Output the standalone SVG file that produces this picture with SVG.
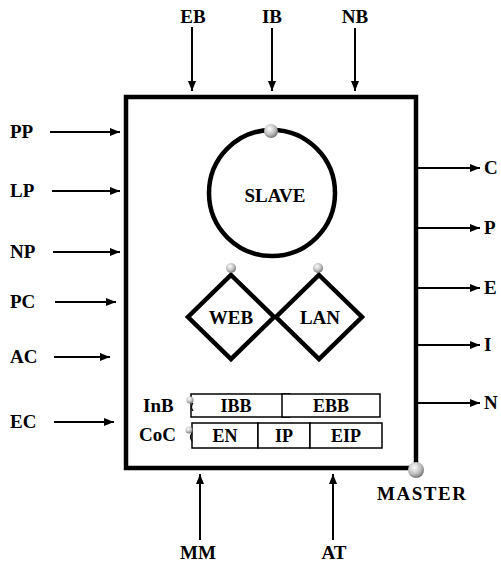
<svg xmlns="http://www.w3.org/2000/svg" width="501" height="564" viewBox="0 0 501 564">
<defs>
<marker id="ah" markerWidth="10" markerHeight="8" refX="10" refY="4" orient="auto" markerUnits="userSpaceOnUse">
<path d="M0,0 L10,4 L0,8 Z" fill="#000"/>
</marker>
<radialGradient id="ball" cx="0.4" cy="0.35" r="0.7">
<stop offset="0" stop-color="#fff"/>
<stop offset="0.6" stop-color="#bbb"/>
<stop offset="1" stop-color="#666"/>
</radialGradient>
</defs>
<style>
text{font-family:'Liberation Serif','DejaVu Serif',serif;font-weight:bold;font-size:19px;fill:#000}
.c{text-anchor:middle}
.s{font-size:18px}
.a{stroke:#000;stroke-width:2;fill:none;marker-end:url(#ah)}
.thick{stroke:#000;stroke-width:4.5;fill:#fff}
.cell{stroke:#000;stroke-width:1.5;fill:#fff}
.ball{fill:url(#ball)}
</style>
<rect width="501" height="564" fill="#fff"/>
<g id="main"><rect class="thick" x="126" y="97" width="290" height="371"/></g>
<g id="connectors">
<line class="a" x1="192" y1="27" x2="192" y2="91"/>
<line class="a" x1="272" y1="28" x2="272" y2="91"/>
<line class="a" x1="355" y1="28" x2="355" y2="91"/>
<line class="a" x1="50" y1="132" x2="120" y2="132"/>
<line class="a" x1="52" y1="191" x2="120" y2="191"/>
<line class="a" x1="53" y1="252" x2="120" y2="252"/>
<line class="a" x1="55" y1="302" x2="116" y2="302"/>
<line class="a" x1="54" y1="357" x2="110" y2="357"/>
<line class="a" x1="54" y1="422" x2="114" y2="422"/>
<line class="a" x1="418" y1="168" x2="480" y2="168"/>
<line class="a" x1="418" y1="228" x2="480" y2="228"/>
<line class="a" x1="418" y1="288" x2="480" y2="288"/>
<line class="a" x1="418" y1="345" x2="480" y2="345"/>
<line class="a" x1="418" y1="403" x2="480" y2="403"/>
<line class="a" x1="200" y1="540" x2="200" y2="474"/>
<line class="a" x1="333" y1="540" x2="333" y2="474"/>
</g>
<g id="labels">
<text class="c" x="193" y="23">EB</text>
<text class="c" x="272" y="23">IB</text>
<text class="c" x="355" y="23">NB</text>
<text x="10" y="138">PP</text>
<text x="10" y="197">LP</text>
<text x="10" y="258">NP</text>
<text x="10" y="308">PC</text>
<text x="10" y="363">AC</text>
<text x="10" y="428">EC</text>
<text x="484" y="174">C</text>
<text x="484" y="234">P</text>
<text x="484" y="294">E</text>
<text x="484" y="351">I</text>
<text x="484" y="409">N</text>
<text class="c" x="198" y="559">MM</text>
<text class="c" x="334" y="559">AT</text>
</g>
<g id="slave">
<circle cx="272" cy="193" r="63" fill="none" stroke="#000" stroke-width="4.5"/>
<circle class="ball" cx="271" cy="131" r="7"/>
<text class="c" x="275" y="202">SLAVE</text>
</g>
<g id="web">
<polygon class="thick" points="231,275 274,317 231,359 188,317"/>
<circle class="ball" cx="231" cy="268" r="5"/>
<text class="c" x="231" y="324">WEB</text>
</g>
<g id="lan">
<polygon class="thick" points="319,275 362,317 319,359 276,317"/>
<circle class="ball" cx="318" cy="268" r="5"/>
<text class="c" x="320" y="324">LAN</text>
</g>
<g id="inb">
<text x="143" y="412">InB</text>
<rect class="cell" x="191" y="394" width="99" height="23"/>
<rect class="cell" x="282" y="394" width="98" height="23"/>
<text class="c s" x="236" y="412">IBB</text>
<text class="c s" x="331" y="412">EBB</text>
<path d="M193,403 q-3,4 0,8" fill="none" stroke="#000" stroke-width="1.2"/>
<circle class="ball" cx="190" cy="400" r="3.5"/>
</g>
<g id="coc">
<text x="139" y="441">CoC</text>
<rect class="cell" x="192" y="423" width="66" height="25"/>
<rect class="cell" x="258" y="423" width="52" height="25"/>
<rect class="cell" x="310" y="423" width="72" height="25"/>
<text class="c s" x="225" y="442">EN</text>
<text class="c s" x="284" y="442">IP</text>
<text class="c s" x="346" y="442">EIP</text>
<path d="M192,433 q-3,4 0,8" fill="none" stroke="#000" stroke-width="1.2"/>
<circle class="ball" cx="189" cy="430" r="3.5"/>
</g>
<g id="master">
<circle class="ball" cx="416" cy="470" r="8"/>
<text x="377" y="500" textLength="89" lengthAdjust="spacing">MASTER</text>
</g>
</svg>
